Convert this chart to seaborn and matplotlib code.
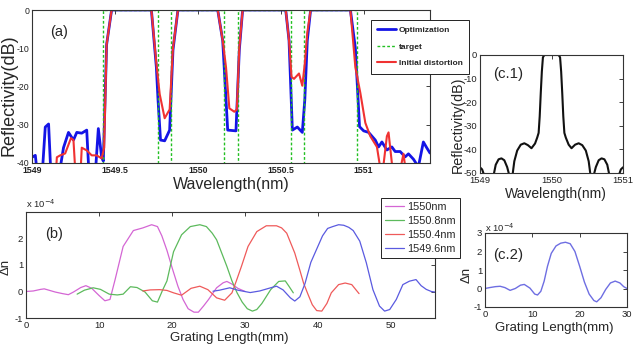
import numpy as np
import pandas as pd
import seaborn as sns
import matplotlib
matplotlib.use("Agg")
import matplotlib.pyplot as plt

# ---------------- data ----------------
# (a) reflectivity spectra, dB (values below -40 fall outside the axes)
wl_opt = [1549.00, 1549.02, 1549.035, 1549.06, 1549.08, 1549.10, 1549.115, 1549.16, 1549.19,
          1549.22, 1549.25, 1549.27, 1549.30, 1549.33, 1549.345, 1549.38, 1549.40, 1549.42,
          1549.43, 1549.45, 1549.48, 1549.72, 1549.75, 1549.76, 1549.775, 1549.80, 1549.83,
          1549.85, 1549.88, 1550.12, 1550.15, 1550.17, 1550.18, 1550.23, 1550.25, 1550.27,
          1550.53, 1550.55, 1550.57, 1550.60, 1550.63, 1550.645, 1550.66, 1550.68, 1550.92,
          1550.95, 1550.975, 1551.00, 1551.03, 1551.07, 1551.09, 1551.11, 1551.14, 1551.17,
          1551.19, 1551.22, 1551.25, 1551.27, 1551.30, 1551.33, 1551.36, 1551.38, 1551.40]
r_opt = [-38.5, -38.0, -44, -44, -30.6, -29.8, -44, -44, -36,
         -32.0, -34.0, -32.0, -32.2, -31.4, -44, -44, -31.0, -38.5,
         -39.5, -9.0, 0, 0, -15.0, -23.5, -34.0, -34.2, -31.4,
         -10.5, 0, 0, -8.0, -23.5, -31.4, -31.6, -10.5, 0,
         0, -8.0, -31.4, -30.6, -32.0, -23.5, -8.0, 0, 0,
         -10.0, -30.5, -31.6, -32.0, -34.0, -35.8, -34.5, -36.6, -35.8,
         -37.0, -37.0, -38.4, -37.6, -39.0, -41.0, -34.5, -36.0, -37.4]

wl_init = [1549.00, 1549.14, 1549.15, 1549.17, 1549.20, 1549.235, 1549.25, 1549.265, 1549.29,
           1549.30, 1549.33, 1549.36, 1549.39, 1549.42, 1549.435, 1549.45, 1549.48, 1549.72,
           1549.75, 1549.77, 1549.80, 1549.83, 1549.85, 1549.88, 1550.12, 1550.15, 1550.17,
           1550.19, 1550.22, 1550.235, 1550.25, 1550.27, 1550.53, 1550.55, 1550.565, 1550.58,
           1550.61, 1550.63, 1550.645, 1550.66, 1550.68, 1550.92, 1550.95, 1550.98, 1551.01,
           1551.04, 1551.08, 1551.11, 1551.14, 1551.15, 1551.18, 1551.21, 1551.24, 1551.26,
           1551.40]
r_init = [-45, -45, -38.5, -38.0, -37.5, -33.5, -34.0, -45, -45,
          -36.0, -36.7, -38.0, -38.0, -38.8, -36.0, -9.0, 0, 0,
          -14.0, -22.0, -28.3, -26.0, -10.0, 0, 0, -8.0, -15.0,
          -25.7, -26.6, -26.0, -10.0, 0, 0, -8.0, -17.5, -18.0,
          -16.6, -19.8, -14.0, -6.0, 0, 0, -15.0, -21.7, -29.5,
          -33.0, -35.8, -44, -33.0, -32.0, -44, -44, -37.6, -44,
          -46]

wl_target = [1549.00, 1549.43, 1549.43, 1549.76, 1549.76, 1549.84, 1549.84, 1550.16, 1550.16,
             1550.24, 1550.24, 1550.56, 1550.56, 1550.64, 1550.64, 1550.96, 1550.96, 1551.40]
r_target = [-60, -60, 0, 0, -60, -60, 0, 0, -60,
            -60, 0, 0, -60, -60, 0, 0, -60, -60]

a_xticks = [1549, 1549.5, 1550, 1550.5, 1551]
a_xticklabels = ["1549", "1549.5", "1550", "1550.5", "1551"]
a_yticks = [-40, -30, -20, -10, 0]

# (c.1) single channel reflectivity, dB
wl_c1 = [1549.00, 1549.03, 1549.07, 1549.15, 1549.19, 1549.22, 1549.26, 1549.30, 1549.34,
         1549.38, 1549.41, 1549.45, 1549.48, 1549.52, 1549.57, 1549.62, 1549.67, 1549.72,
         1549.77, 1549.80, 1549.82, 1549.835, 1549.85, 1549.865, 1549.88, 1549.90,
         1550.10, 1550.12, 1550.135, 1550.15, 1550.165, 1550.18, 1550.20, 1550.24, 1550.28,
         1550.33, 1550.38, 1550.43, 1550.48, 1550.52, 1550.55, 1550.59, 1550.62, 1550.66,
         1550.70, 1550.74, 1550.78, 1550.81, 1550.85, 1550.93, 1550.97, 1551.00]
r_c1 = [-47.6, -48.5, -52, -56, -51, -46.5, -44.2, -43.8, -44.6,
        -47.5, -51, -52, -45, -40.5, -38.0, -37.4, -38.2, -39.5,
        -37.5, -35.0, -33.0, -26.0, -16.0, -7.0, -1.0, 0,
        0, -1.0, -7.0, -16.0, -26.0, -33.0, -35.0, -38.0, -39.5,
        -38.0, -37.4, -38.2, -40.5, -45, -52, -51, -47.5, -44.6,
        -43.8, -44.2, -46.5, -51, -56, -52, -48.5, -47.6]

# (b) index modulation profiles, x 1e-4
z_1550 = [0, 1, 2, 2.5, 3, 4, 5, 5.8, 6.5, 7.5, 8.2, 9, 10, 10.8, 11.5, 12.2, 13.3, 14.7,
          16, 16.5, 17.2, 18, 18.6, 19.3, 20, 20.8, 21.5, 22.2, 23, 23.6, 24.3, 25, 26.1,
          27, 27.5, 28.2, 29, 30]
dn_1550 = [0.0, 0.02, 0.08, 0.1, 0.06, -0.02, -0.08, -0.12, -0.02, 0.15, 0.22, 0.12, -0.15,
           -0.35, -0.3, 0.45, 1.7, 2.3, 2.4, 2.45, 2.52, 2.45, 2.1, 1.55, 0.9, 0.2, -0.3,
           -0.65, -0.78, -0.78, -0.55, -0.3, 0.14, 0.33, 0.38, 0.28, 0.12, 0.0]

z_15508 = [7, 8, 9.2, 10.2, 11.4, 12.5, 13.3, 14.3, 15.2, 16.3, 17.3, 18, 18.7, 19.3, 20.2,
           21.3, 22.5, 23.8, 24.7, 25.5, 26.1, 27.5, 28.2, 28.9, 29.6, 30.3, 31, 31.6, 32.3,
           33.5, 34.6, 35.5, 36, 36.6]
dn_15508 = [-0.1, 0.05, 0.14, 0.08, -0.1, -0.13, -0.1, 0.18, 0.15, -0.02, -0.35, -0.4, 0.05,
            0.4, 1.5, 2.14, 2.45, 2.52, 2.45, 2.2, 1.95, 0.95, 0.4, -0.05, -0.4, -0.65, -0.74,
            -0.68, -0.45, 0.07, 0.38, 0.4, 0.2, -0.05]

z_15504 = [16, 17, 18.3, 19.3, 20.2, 21.3, 22.6, 23.8, 24.9, 26.1, 27.2, 28.2, 28.8, 29.5,
           30.4, 31.6, 32.9, 34.3, 35.0, 35.7, 36.8, 37.5, 38, 38.6, 39.2, 39.8, 40.5, 41.2,
           41.8, 42.8, 43.7, 44.6, 45.6]
dn_15504 = [0.02, 0.06, 0.07, 0.04, -0.05, -0.14, 0.12, 0.2, 0.07, -0.24, -0.33, -0.05, 0.4,
            0.95, 1.7, 2.26, 2.48, 2.48, 2.4, 2.2, 1.45, 0.8, 0.32, -0.1, -0.5, -0.72, -0.74,
            -0.45, -0.05, 0.26, 0.32, 0.26, -0.08]

z_15496 = [25.6, 26.5, 27.9, 29, 30.7, 32, 33.5, 34.3, 35.2, 36.2, 36.8, 37.5, 38.2, 39, 39.8,
           40.6, 41.3, 42, 42.8, 43.5, 44.2, 44.8, 45.7, 46.6, 47.5, 48.4, 49.1, 49.8, 50.7,
           51.6, 52.5, 53.4, 54.1, 54.8, 55.5, 56]
dn_15496 = [0.01, 0.05, 0.14, 0.05, -0.04, 0.02, 0.14, 0.2, 0.06, -0.24, -0.36, -0.2, 0.3,
            1.1, 1.6, 2.1, 2.38, 2.45, 2.52, 2.5, 2.42, 2.3, 1.9, 1.08, 0.07, -0.55, -0.74,
            -0.68, -0.3, 0.26, 0.39, 0.45, 0.22, 0.08, 0.0, -0.02]

# (c.2) single channel profile, x 1e-4
z_c2 = [0, 1, 2.2, 3.2, 4.2, 5.3, 6.4, 7.5, 8.3, 9.5, 10.5, 11.1, 11.8, 12.5, 13.2, 14, 15,
        16, 17, 18, 19, 20, 21, 22, 23, 23.6, 24.5, 25.5, 26.5, 27.5, 28.5, 29.3, 30]
dn_c2 = [0.0, 0.05, 0.1, 0.12, 0.05, -0.1, 0.0, 0.18, 0.22, 0.02, -0.3, -0.35, -0.15, 0.4,
         1.2, 1.9, 2.3, 2.45, 2.5, 2.42, 2.0, 1.2, 0.35, -0.3, -0.65, -0.72, -0.5, -0.05,
         0.3, 0.4, 0.3, 0.1, 0.0]

# ---------------- style ----------------
sns.set_theme(style="white")
plt.rcParams["font.family"] = ["Liberation Sans", "DejaVu Sans"]
plt.rcParams["axes.unicode_minus"] = False
plt.rcParams["axes.edgecolor"] = "#333333"
plt.rcParams["axes.linewidth"] = 0.8

fig = plt.figure(figsize=(6.36, 3.44), dpi=100)
W, H = 636, 344


def add_ax(x0, y0, x1, y1):
    return fig.add_axes([x0 / W, 1 - y1 / H, (x1 - x0) / W, (y1 - y0) / H])


def style_ax(ax, size):
    ax.tick_params(direction="in", top=True, right=True, length=3, width=0.6,
                   labelsize=size, pad=2, colors="#222222")


# ---------------- (a) ----------------
ax_a = add_ax(32, 10, 430, 163)
sns.lineplot(x=wl_opt, y=r_opt, ax=ax_a, color="#1414e6", lw=2.0, sort=False,
             estimator=None, label="Optimization")
sns.lineplot(x=wl_target, y=r_target, ax=ax_a, color="#22c022", lw=1.0, sort=False,
             estimator=None, label="target", linestyle=(0, (2, 1.5)))
sns.lineplot(x=wl_init, y=r_init, ax=ax_a, color="#f03232", lw=1.5, sort=False,
             estimator=None, label="Initial distortion")
ax_a.set_xlim(1549, 1551.4)
ax_a.set_ylim(-40, 0)
ax_a.set_xticks(a_xticks)
ax_a.set_xticklabels(a_xticklabels)
ax_a.set_yticks(a_yticks)
style_ax(ax_a, 6.3)
for lab in ax_a.get_xticklabels():
    lab.set_fontweight("bold")
ax_a.set_xlabel("Wavelength(nm)", fontsize=11.5)
ax_a.set_ylabel("Reflectivity(dB)", fontsize=13)
ax_a.xaxis.set_label_coords(0.5, -0.09)
ax_a.yaxis.set_label_coords(-0.037, 0.44)
ax_a.text(0.068, 0.856, "(a)", transform=ax_a.transAxes, fontsize=10.5,
          ha="center", va="center")
leg = ax_a.legend(loc="upper left", bbox_to_anchor=(371 / W, 1 - 20 / H),
                  bbox_transform=fig.transFigure, prop={"weight": "bold", "size": 6},
                  frameon=True, fancybox=False, edgecolor="#222222", framealpha=1,
                  handlelength=2.3, labelspacing=1.05, borderpad=0.75, borderaxespad=0,
                  handletextpad=0.3)
leg.get_frame().set_linewidth(0.7)

# ---------------- (c.1) ----------------
ax_c1 = add_ax(480, 55, 623, 173)
sns.lineplot(x=wl_c1, y=r_c1, ax=ax_c1, color="#111111", lw=1.5, sort=False, estimator=None)
ax_c1.set_xlim(1549, 1551)
ax_c1.set_ylim(-50, 0)
ax_c1.set_xticks([1549, 1550, 1551])
ax_c1.set_yticks([-50, -40, -30, -20, -10, 0])
style_ax(ax_c1, 6.8)
ax_c1.set_xlabel("Wavelength(nm)", fontsize=10)
ax_c1.set_ylabel("Reflectivity(dB)", fontsize=10.3)
ax_c1.xaxis.set_label_coords(0.53, -0.115)
ax_c1.yaxis.set_label_coords(-0.105, 0.41)
ax_c1.text(0.196, 0.843, "(c.1)", transform=ax_c1.transAxes, fontsize=10.8,
           ha="center", va="center")

# ---------------- (b) ----------------
ax_b = add_ax(26, 212, 435, 318)
profiles = [("1550nm", z_1550, dn_1550, "#d466d4"),
            ("1550.8nm", z_15508, dn_15508, "#5cba5c"),
            ("1550.4nm", z_15504, dn_15504, "#ef5a5a"),
            ("1549.6nm", z_15496, dn_15496, "#5a5ae0")]
for name, z, dn, col in profiles:
    sns.lineplot(x=z, y=dn, ax=ax_b, color=col, lw=0.9, sort=False, estimator=None,
                 label=name)
ax_b.set_xlim(0, 56)
ax_b.set_ylim(-1, 3)
ax_b.set_xticks([0, 10, 20, 30, 40, 50])
ax_b.set_yticks([-1, 0, 1, 2])
style_ax(ax_b, 6.8)
ax_b.set_xlabel("Grating Length(mm)", fontsize=9.5)
ax_b.set_ylabel("\u0394n", fontsize=9.5)
ax_b.xaxis.set_label_coords(0.496, -0.13)
ax_b.yaxis.set_label_coords(-0.034, 0.48)
ax_b.text(0.0, 1.02, r"x 10$^{-4}$", transform=ax_b.transAxes, fontsize=6.8,
          ha="left", va="bottom")
ax_b.text(0.068, 0.797, "(b)", transform=ax_b.transAxes, fontsize=10.5,
          ha="center", va="center")
leg_b = ax_b.legend(loc="upper left", bbox_to_anchor=(381 / W, 1 - 198 / H),
                    bbox_transform=fig.transFigure, prop={"size": 7.8},
                    frameon=True, fancybox=False, edgecolor="#222222", framealpha=1,
                    handlelength=1.8, labelspacing=0.38, borderpad=0.35, borderaxespad=0,
                    handletextpad=0.3)
leg_b.get_frame().set_linewidth(0.7)

# ---------------- (c.2) ----------------
ax_c2 = add_ax(485, 233, 627, 307)
sns.lineplot(x=z_c2, y=dn_c2, ax=ax_c2, color="#6e6ee2", lw=1.0, sort=False, estimator=None)
ax_c2.set_xlim(0, 30)
ax_c2.set_ylim(-1, 3)
ax_c2.set_xticks([0, 10, 20, 30])
ax_c2.set_yticks([-1, 0, 1, 2, 3])
style_ax(ax_c2, 6.8)
ax_c2.set_xlabel("Grating Length(mm)", fontsize=9.5)
ax_c2.set_ylabel("\u0394n", fontsize=9.5)
ax_c2.xaxis.set_label_coords(0.49, -0.2)
ax_c2.yaxis.set_label_coords(-0.09, 0.43)
ax_c2.text(0.0, 0.99, r"x 10$^{-4}$", transform=ax_c2.transAxes, fontsize=6.8,
           ha="left", va="bottom")
ax_c2.text(0.162, 0.696, "(c.2)", transform=ax_c2.transAxes, fontsize=10.8,
           ha="center", va="center")

fig.savefig("out.png", dpi=100)
